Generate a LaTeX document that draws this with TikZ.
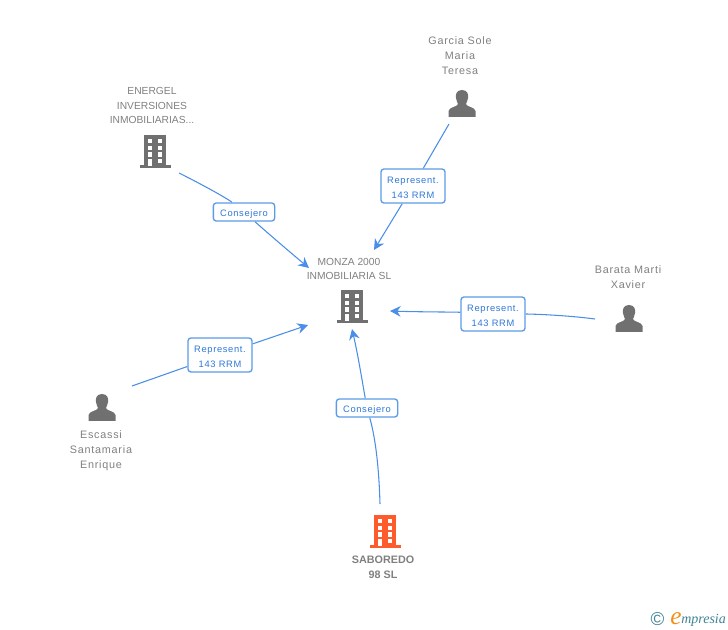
\documentclass[tikz,border=0pt]{standalone}
\usepackage{fontspec}
\setmainfont{Liberation Sans}
\newfontfamily\logofont{Liberation Serif}
\newfontfamily\spacedfont[LetterSpace=7]{Liberation Sans}
\usetikzlibrary{arrows.meta,backgrounds}
\definecolor{icongray}{HTML}{707070}
\definecolor{txtgray}{HTML}{808080}
\definecolor{linkblue}{HTML}{4A8EE8}
\definecolor{boxblue}{HTML}{5C9BE8}
\definecolor{labblue}{HTML}{2F78D8}
\definecolor{orangered}{HTML}{FF5A2B}
\definecolor{logoteal}{HTML}{3F8296}
\definecolor{logoorange}{HTML}{F39019}
\newcommand{\lblstrut}{\rule{0pt}{7.5pt}}
\tikzset{
  x=0.75pt,y=-0.75pt,
  caption/.style={font=\fontsize{7.7}{11.2}\selectfont,text=txtgray,align=center,inner sep=0pt},
  captionsp/.style={font=\spacedfont\fontsize{8.1}{11.2}\selectfont,text=txtgray,align=center,inner sep=0pt},
  captionbold/.style={font=\bfseries\fontsize{8.1}{11.2}\selectfont,text=txtgray,align=center,inner sep=0pt},
  linklabel/.style={draw=boxblue,line width=1pt,fill=white,rounded corners=2.2pt,text=labblue,align=center,inner sep=0pt,font=\spacedfont\fontsize{7}{11.3}\selectfont},
  link/.style={draw=linkblue,line width=0.8pt},
  tip/.style={-{Stealth[length=8pt,width=8pt,inset=2.6pt]}},
  pics/building/.style={code={
    \fill[#1] (-11,-16) rectangle (11,16);
    \fill[#1] (-15,14) rectangle (16,17);
    \foreach \yy in {-12,-5.4,1.3}{
      \fill[white] (-7,\yy) rectangle (-2.7,\yy+4.4);
      \fill[white] (2.5,\yy) rectangle (7.3,\yy+4.4);
    }
    \fill[white] (-7,8) rectangle (-2.7,15);
    \fill[white] (2.5,8) rectangle (7.3,12.4);
  }},
  pics/person/.style={code={
    \fill[icongray] (0,-21) .. controls (-6,-21) and (-6.5,-16) .. (-6,-13)
      .. controls (-5.6,-10) and (-4.5,-8.5) .. (-4,-7)
      .. controls (-4.5,-4) and (-13,-4) .. (-13.5,0) -- (-13.5,6) -- (13.5,6) -- (13.5,0)
      .. controls (13,-4) and (4.5,-4) .. (4,-7)
      .. controls (4.5,-8.5) and (5.6,-10) .. (6,-13)
      .. controls (6.5,-16) and (6,-21) .. (0,-21) -- cycle;
  }}
}
\begin{document}
\begin{tikzpicture}
\useasboundingbox (0,0) rectangle (728,630);

% icons
\pic at (352,306) {building=icongray};
\pic at (155,151) {building=icongray};
\pic at (385,531) {building=orangered};
\pic at (462,111) {person};
\pic at (629,326) {person};
\pic at (102,415) {person};

% captions
\node[caption] (monza) at (349,269) {MONZA 2000\\INMOBILIARIA SL};
\node[caption] (energel) at (152,105.5) {ENERGEL\\INVERSIONES\\INMOBILIARIAS...};
\node[captionsp] (garcia) at (460,56) {Garcia Sole\\Maria\\Teresa};
\node[captionsp] (barata) at (628,277.5) {Barata Marti\\Xavier};
\node[captionsp] (escassi) at (101,451) {Escassi\\Santamaria\\Enrique};
\node[captionbold] (saboredo) at (383,567.5) {SABOREDO\\98 SL};

% link labels
\node[linklabel,minimum width=46pt,minimum height=13.5pt] (l1) at (244,212) {\lblstrut Consejero};
\node[linklabel,minimum width=48pt,minimum height=25.5pt] (l2) at (413,186) {\lblstrut Represent.\\143 RRM};
\node[linklabel,minimum width=48pt,minimum height=25.5pt] (l3) at (493,314) {\lblstrut Represent.\\143 RRM};
\node[linklabel,minimum width=48pt,minimum height=25.5pt] (l4) at (220,355) {\lblstrut Represent.\\143 RRM};
\node[linklabel,minimum width=46pt,minimum height=13.5pt] (l5) at (367,408) {\lblstrut Consejero};

% free ends
\coordinate (s1) at (179,173);
\coordinate (t1) at (309,268);
\coordinate (s2) at (449,124);
\coordinate (t2) at (374,250);
\coordinate (s3) at (595,319);
\coordinate (t3) at (390,311);
\coordinate (s4) at (132,386);
\coordinate (t4) at (308,325);
\coordinate (s5) at (380,504);
\coordinate (t5) at (352,329);

\begin{scope}[on background layer]
\draw[link] (s1) .. controls (205,186) and (228,199) .. (l1);
\draw[link,tip] (l1) .. controls (262,228) and (285,248) .. (t1);
\draw[link] (s2) -- (l2);
\draw[link,tip] (l2) -- (t2);
\draw[link] (s3) .. controls (565,315) and (530,314) .. (l3);
\draw[link,tip] (l3) .. controls (455,312) and (420,312) .. (t3);
\draw[link] (s4) -- (l4);
\draw[link,tip] (l4) -- (t4);
\draw[link] (s5) .. controls (379,470) and (376,440) .. (l5);
\draw[link,tip] (l5) .. controls (362,380) and (358,355) .. (t5);
\end{scope}

% logo
\node[inner sep=0pt,text=logoteal,font=\fontsize{14}{14}\selectfont] (copyr) at (657.5,619) {©};
\node[inner sep=0pt,anchor=base west,text=logoorange,font=\logofont\itshape\fontsize{19}{19}\selectfont] (loge) at (670,624) {e};
\node[inner sep=0pt,anchor=base west,text=logoteal,font=\logofont\itshape\fontsize{10.5}{10.5}\selectfont] (logw) at (681,623) {mpresia};
\end{tikzpicture}
\end{document}
